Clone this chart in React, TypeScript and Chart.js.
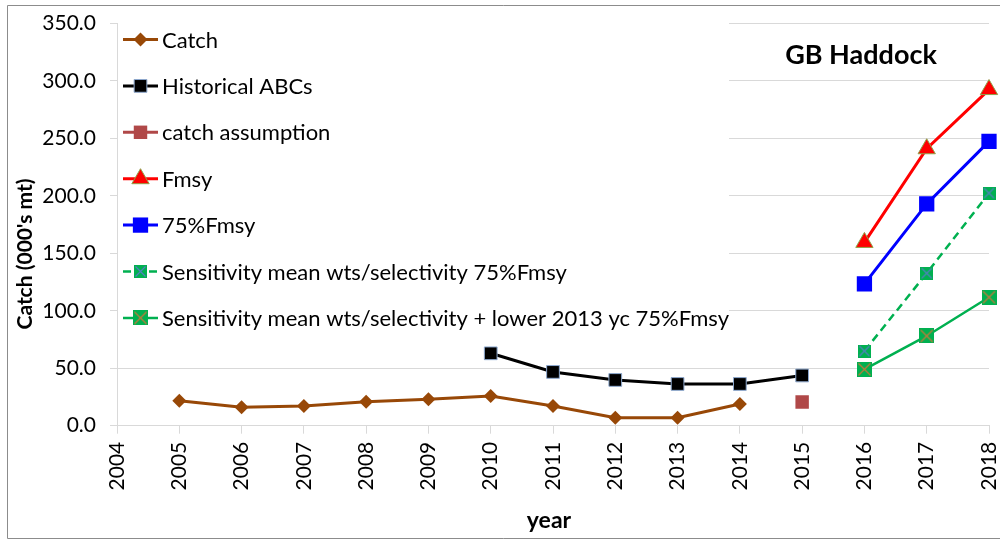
import React, { useEffect, useRef } from 'react';
import { Chart, registerables } from 'chart.js';

Chart.register(...registerables);

// ---------- data ----------
const YEARS = ['2004', '2005', '2006', '2007', '2008', '2009', '2010', '2011', '2012', '2013', '2014', '2015', '2016', '2017', '2018'];
const CATCH = [null, 21.8, 16.0, 17.2, 20.9, 23.0, 25.9, 17.2, 7.0, 7.0, 18.9, null, null, null, null];
const HIST_ABC = [null, null, null, null, null, null, 63.0, 46.8, 39.8, 36.3, 36.3, 43.7, null, null, null];
const CATCH_ASSUMPTION = [null, null, null, null, null, null, null, null, null, null, null, 20.6, null, null, null];
const FMSY = [null, null, null, null, null, null, null, null, null, null, null, null, 159.5, 241.0, 292.5];
const F75 = [null, null, null, null, null, null, null, null, null, null, null, null, 123.4, 193.0, 247.4];
const SENS_75 = [null, null, null, null, null, null, null, null, null, null, null, null, 65.0, 132.7, 202.4];
const SENS_LOW_75 = [null, null, null, null, null, null, null, null, null, null, null, null, 49.1, 78.1, 111.8];

const SERIES_NAMES = [
  'Catch',
  'Historical ABCs',
  'catch assumption',
  'Fmsy',
  '75%Fmsy',
  'Sensitivity mean wts/selectivity 75%Fmsy',
  'Sensitivity mean wts/selectivity + lower 2013 yc 75%Fmsy',
];
const Y_TICK_STEP = 50;
const Y_MAX = 350;
const CHART_TITLE = 'GB Haddock';
const Y_TITLE = "Catch (000's mt)";
const X_TITLE = 'year';

const FONT = 'Lato, "Open Sans", "Noto Sans", sans-serif';
const GRID = '#D9D9D9';

function makeXSquare(size: number, fill: string, cross: string) {
  const c = document.createElement('canvas');
  c.width = size;
  c.height = size;
  const g = c.getContext('2d') as CanvasRenderingContext2D;
  g.fillStyle = fill;
  g.fillRect(0, 0, size, size);
  g.strokeStyle = cross;
  g.lineWidth = 1.3;
  g.beginPath();
  g.moveTo(1.5, 1.5);
  g.lineTo(size - 1.5, size - 1.5);
  g.moveTo(size - 1.5, 1.5);
  g.lineTo(1.5, size - 1.5);
  g.stroke();
  return c;
}

function drawMarker(ctx: CanvasRenderingContext2D, ds: any, x: number, y: number) {
  const st = ds.pointStyle;
  const r = ds.pointRadius;
  if (typeof st !== 'string') {
    ctx.drawImage(st, x - st.width / 2, y - st.height / 2);
    return;
  }
  ctx.save();
  ctx.setLineDash([]);
  ctx.fillStyle = ds.pointBackgroundColor;
  ctx.strokeStyle = ds.pointBorderColor;
  ctx.lineWidth = ds.pointBorderWidth || 0;
  ctx.beginPath();
  if (st === 'rectRot') {
    ctx.moveTo(x, y - r);
    ctx.lineTo(x + r, y);
    ctx.lineTo(x, y + r);
    ctx.lineTo(x - r, y);
    ctx.closePath();
  } else if (st === 'rect') {
    const s = Math.SQRT1_2 * r;
    ctx.rect(x - s, y - s, 2 * s, 2 * s);
  } else if (st === 'triangle') {
    const w = r * Math.sin((2 * Math.PI) / 3);
    ctx.moveTo(x, y - r);
    ctx.lineTo(x + w, y + r / 2);
    ctx.lineTo(x - w, y + r / 2);
    ctx.closePath();
  }
  ctx.fill();
  if (ds.pointBorderWidth) ctx.stroke();
  ctx.restore();
}

const decor = {
  id: 'decor',
  beforeDraw(chart: any) {
    const ctx = chart.ctx as CanvasRenderingContext2D;
    ctx.save();
    ctx.fillStyle = '#ffffff';
    ctx.fillRect(0, 0, chart.width, chart.height);
    ctx.strokeStyle = '#8C8C8C';
    ctx.lineWidth = 1;
    ctx.beginPath();
    ctx.moveTo(1000, 5.5);
    ctx.lineTo(7.5, 5.5);
    ctx.lineTo(7.5, 538.5);
    ctx.lineTo(1000, 538.5);
    ctx.stroke();
    ctx.restore();
  },
  beforeDatasetsDraw(chart: any) {
    const ctx = chart.ctx as CanvasRenderingContext2D;
    const area = chart.chartArea;
    ctx.save();
    ctx.fillStyle = '#ffffff';
    ctx.fillRect(area.left + 1, area.top - 3, 729 - area.left - 1, 340 - area.top + 3);
    chart.data.datasets.forEach((ds: any, i: number) => {
      const y = 39.5 + i * 46.4;
      ctx.save();
      ctx.strokeStyle = ds.borderColor;
      ctx.lineWidth = ds.borderWidth;
      ctx.setLineDash(ds.borderDash || []);
      ctx.beginPath();
      ctx.moveTo(123, y);
      ctx.lineTo(158, y);
      ctx.stroke();
      ctx.restore();
      drawMarker(ctx, ds, 140.5, y);
      ctx.fillStyle = '#000';
      ctx.font = `22px ${FONT}`;
      ctx.textAlign = 'left';
      ctx.textBaseline = 'middle';
      ctx.fillText(ds.label, 162, y + 1);
    });
    ctx.restore();
  },
  afterDraw(chart: any) {
    const ctx = chart.ctx as CanvasRenderingContext2D;
    ctx.save();
    ctx.fillStyle = '#000';
    ctx.textAlign = 'center';
    ctx.textBaseline = 'middle';
    ctx.font = `bold 27px ${FONT}`;
    ctx.fillText(CHART_TITLE, 861, 55);
    ctx.font = `bold 23px ${FONT}`;
    ctx.fillText(X_TITLE, 549, 521);
    ctx.translate(25, 254);
    ctx.rotate(-Math.PI / 2);
    ctx.font = `bold 21px ${FONT}`;
    ctx.fillText(Y_TITLE, 0, 0);
    ctx.restore();
  },
};

export default function App() {
  const ref = useRef<HTMLCanvasElement | null>(null);

  useEffect(() => {
    if (!ref.current) return;
    const sensMarker = makeXSquare(13, '#00B050', '#4F81BD');
    const lowMarker = makeXSquare(15, '#00B050', '#C07A3A');
    const chart = new Chart(ref.current, {
      type: 'line',
      data: {
        labels: YEARS,
        datasets: [
          {
            label: SERIES_NAMES[0],
            data: CATCH,
            borderColor: '#984807',
            borderWidth: 3,
            pointStyle: 'rectRot',
            pointRadius: 7,
            pointBackgroundColor: '#984807',
            pointBorderColor: '#984807',
            pointBorderWidth: 0,
          },
          {
            label: SERIES_NAMES[1],
            data: HIST_ABC,
            borderColor: '#000000',
            borderWidth: 3,
            pointStyle: 'rect',
            pointRadius: 9,
            pointBackgroundColor: '#000000',
            pointBorderColor: '#8EA9CF',
            pointBorderWidth: 1,
          },
          {
            label: SERIES_NAMES[2],
            data: CATCH_ASSUMPTION,
            showLine: false,
            borderColor: '#B04848',
            borderWidth: 3,
            pointStyle: 'rect',
            pointRadius: 9.5,
            pointBackgroundColor: '#B04848',
            pointBorderColor: '#B04848',
            pointBorderWidth: 0,
          },
          {
            label: SERIES_NAMES[3],
            data: FMSY,
            borderColor: '#FF0000',
            borderWidth: 3,
            pointStyle: 'triangle',
            pointRadius: 10,
            pointBackgroundColor: '#FF0000',
            pointBorderColor: '#8FA34A',
            pointBorderWidth: 1,
          },
          {
            label: SERIES_NAMES[4],
            data: F75,
            borderColor: '#0000FF',
            borderWidth: 3,
            pointStyle: 'rect',
            pointRadius: 10.8,
            pointBackgroundColor: '#0000FF',
            pointBorderColor: '#0000FF',
            pointBorderWidth: 0,
          },
          {
            label: SERIES_NAMES[5],
            data: SENS_75,
            borderColor: '#00B050',
            borderWidth: 2.5,
            borderDash: [8, 5],
            pointStyle: sensMarker as any,
            pointRadius: 7,
          },
          {
            label: SERIES_NAMES[6],
            data: SENS_LOW_75,
            borderColor: '#00B050',
            borderWidth: 2.5,
            pointStyle: lowMarker as any,
            pointRadius: 8,
          },
        ] as any,
      },
      options: {
        responsive: false,
        animation: false,
        events: [],
        layout: { padding: { left: 0, top: 23.5, right: 10, bottom: 0 } },
        plugins: {
          legend: { display: false },
          title: { display: false },
          tooltip: { enabled: false },
        },
        scales: {
          x: {
            type: 'category',
            offset: false,
            grid: { display: true, drawOnChartArea: false, drawTicks: true, tickLength: 8, color: GRID },
            border: { display: true, color: GRID },
            ticks: {
              autoSkip: false,
              maxRotation: 90,
              minRotation: 90,
              padding: 8,
              color: '#000',
              font: { family: FONT, size: 21 },
            },
            afterFit: (s: any) => {
              s.height = 540 - 425.7;
              s.paddingLeft = 0;
              s.paddingRight = 0;
            },
          },
          y: {
            min: 0,
            max: Y_MAX,
            grid: { color: GRID, tickLength: 7, drawTicks: true },
            border: { display: true, color: GRID },
            ticks: {
              stepSize: Y_TICK_STEP,
              padding: 14,
              color: '#000',
              font: { family: FONT, size: 21 },
              callback: (v: any) => Number(v).toFixed(1),
            },
            afterFit: (s: any) => {
              s.width = 117;
              s.paddingTop = 0;
              s.paddingBottom = 0;
            },
          },
        },
      } as any,
      plugins: [decor],
    });
    return () => chart.destroy();
  }, []);

  return (
    <div style={{ position: 'fixed', left: 0, top: 0, width: 1000, height: 540 }}>
      <canvas ref={ref} width={1000} height={540} style={{ display: 'block', width: 1000, height: 540 }} />
    </div>
  );
}
